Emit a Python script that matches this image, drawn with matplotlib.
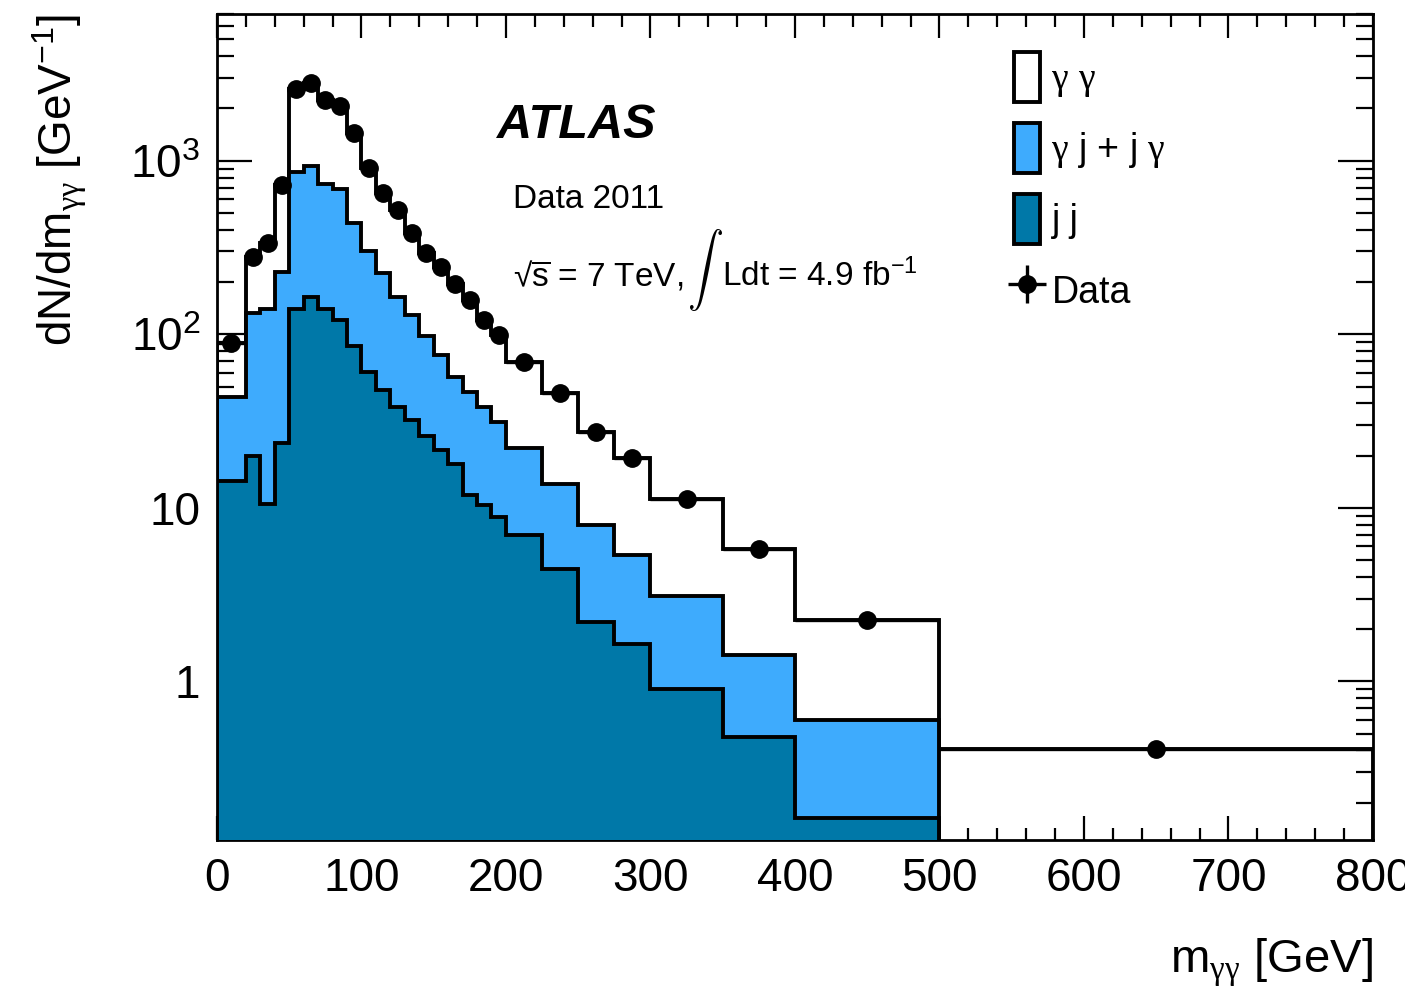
import numpy as np
import matplotlib
matplotlib.use("Agg")
import matplotlib.pyplot as plt
from matplotlib.ticker import FixedLocator, MultipleLocator, NullFormatter

plt.rcParams["font.family"] = ["Liberation Sans", "DejaVu Sans"]
plt.rcParams["mathtext.fontset"] = "custom"
plt.rcParams["mathtext.rm"] = "Liberation Sans"
plt.rcParams["mathtext.it"] = "Liberation Sans:italic"
plt.rcParams["mathtext.bf"] = "Liberation Sans:bold"
plt.rcParams["mathtext.sf"] = "Liberation Serif"  # upright serif gamma

# bin edges in GeV
edges = [0, 20, 30, 40, 50, 60, 70, 80, 90, 100, 110, 120, 130, 140, 150,
         160, 170, 180, 190, 200, 225, 250, 275, 300, 350, 400, 500, 800]

# data points (also top of the gamma-gamma stack), dN/dm per GeV
data = [89, 280, 334, 724, 2580, 2795, 2240, 2066, 1440, 904, 649, 520, 382,
        293, 245, 196, 157, 121, 99, 69.5, 45.6, 27.4, 19.3, 11.2, 5.78,
        2.25, 0.406]
data_err = [2.1, 5.3, 5.8, 8.5, 16, 17, 15, 14, 12, 9.5, 8.1, 7.2, 6.2,
            5.4, 4.9, 4.4, 4.0, 3.5, 3.1, 1.7, 1.35, 1.05, 0.88, 0.47, 0.34,
            0.15, 0.037]
# top of gamma-jet stack (gamma j + j gamma + jj), 0-500 GeV
stack_gj = [43.6, 132, 139, 229, 865, 931, 734, 684, 436, 303, 224, 164, 129,
            97.7, 75.9, 56.9, 46.7, 38.2, 31.3, 22.0, 13.8, 7.94, 5.33, 3.10,
            1.42, 0.602]
# jj component, 0-500 GeV
stack_jj = [14.3, 19.9, 10.5, 23.7, 139, 163, 139, 121, 85.6, 60.8, 47.6, 37.9,
            32.0, 25.9, 21.5, 18.0, 11.8, 10.4, 8.88, 6.96, 4.42, 2.20, 1.65,
            0.91, 0.479, 0.164]

edges = np.array(edges, dtype=float)
centers = 0.5 * (edges[1:] + edges[:-1])
half_w = 0.5 * np.diff(edges)

fig = plt.figure(figsize=(14.05, 9.88), dpi=100)
ax = fig.add_axes([0.1544, 0.1498, 0.8228, 0.8360])

lw = 2.8
base = 1e-4
h_gg = ax.stairs(data, edges, fill=True, baseline=base, facecolor="white",
                 edgecolor="black", linewidth=lw, zorder=1,
                 label=r"$\mathsf{γ}$ $\mathsf{γ}$")
h_gj = ax.stairs(stack_gj, edges[:len(stack_gj) + 1], fill=True, baseline=base,
                 facecolor="#3eabfd", edgecolor="black", linewidth=lw, zorder=2,
                 label=r"$\mathsf{γ}$ j + j $\mathsf{γ}$")
h_jj = ax.stairs(stack_jj, edges[:len(stack_jj) + 1], fill=True, baseline=base,
                 facecolor="#0078a8", edgecolor="black", linewidth=lw, zorder=3,
                 label="j j")
h_data = ax.errorbar(centers, data, yerr=data_err, xerr=half_w, fmt="o",
                     color="black", markersize=12.5, elinewidth=2.4, capsize=0,
                     zorder=5, label="Data")

ax.set_yscale("log")
ax.set_xlim(0, 800)
ax.set_ylim(0.122, 7000)

ax.xaxis.set_major_locator(MultipleLocator(100))
ax.xaxis.set_minor_locator(MultipleLocator(20))
ax.yaxis.set_major_locator(FixedLocator([1, 10, 100, 1000]))
minor_y = [m * 10.0 ** k for k in range(-1, 4) for m in range(2, 10)]
ax.yaxis.set_minor_locator(FixedLocator(minor_y))
ax.yaxis.set_minor_formatter(NullFormatter())
ax.set_yticklabels(["1", "10", r"$10^2$", r"$10^3$"])

ax.tick_params(axis="both", which="both", direction="in", top=True, right=True,
               labelsize=33, width=1.6, color="black")
ax.tick_params(axis="x", which="major", length=17, pad=12)
ax.tick_params(axis="x", which="minor", length=9)
ax.tick_params(axis="y", which="major", length=25, pad=12)
ax.tick_params(axis="y", which="minor", length=12)
for sp in ax.spines.values():
    sp.set_linewidth(2)

ax.set_xlabel(r"m$_{\mathsf{γγ}}$ [GeV]", fontsize=34, loc="right", labelpad=26)
ax.set_ylabel(r"dN/dm$_{\mathsf{γγ}}$ [GeV$^{-1}$]", fontsize=33, loc="top",
              labelpad=30)

ax.text(0.242, 0.85, "ATLAS", transform=ax.transAxes, fontsize=35,
        fontweight="bold", fontstyle="italic", va="baseline")
ax.text(0.256, 0.765, "Data 2011", transform=ax.transAxes, fontsize=24,
        va="baseline")
ax.text(0.256, 0.67, r"√$\overline{\mathrm{s}}$ = 7 TeV,", transform=ax.transAxes,
        fontsize=24, va="baseline")
ax.text(0.407, 0.69, r"$\int$", transform=ax.transAxes, fontsize=26,
        math_fontfamily="cm", va="center")
ax.text(0.437, 0.67, r"Ldt = 4.9 fb$^{-1}$", transform=ax.transAxes,
        fontsize=24, va="baseline")

leg = ax.legend(handles=[h_gg, h_gj, h_jj, h_data], loc="upper left",
                bbox_to_anchor=(0.6765, 0.972), frameon=False, fontsize=27,
                handlelength=0.7, handleheight=1.65, labelspacing=0.58,
                handletextpad=0.3, borderaxespad=0)

fig.savefig("out.png", dpi=100)
